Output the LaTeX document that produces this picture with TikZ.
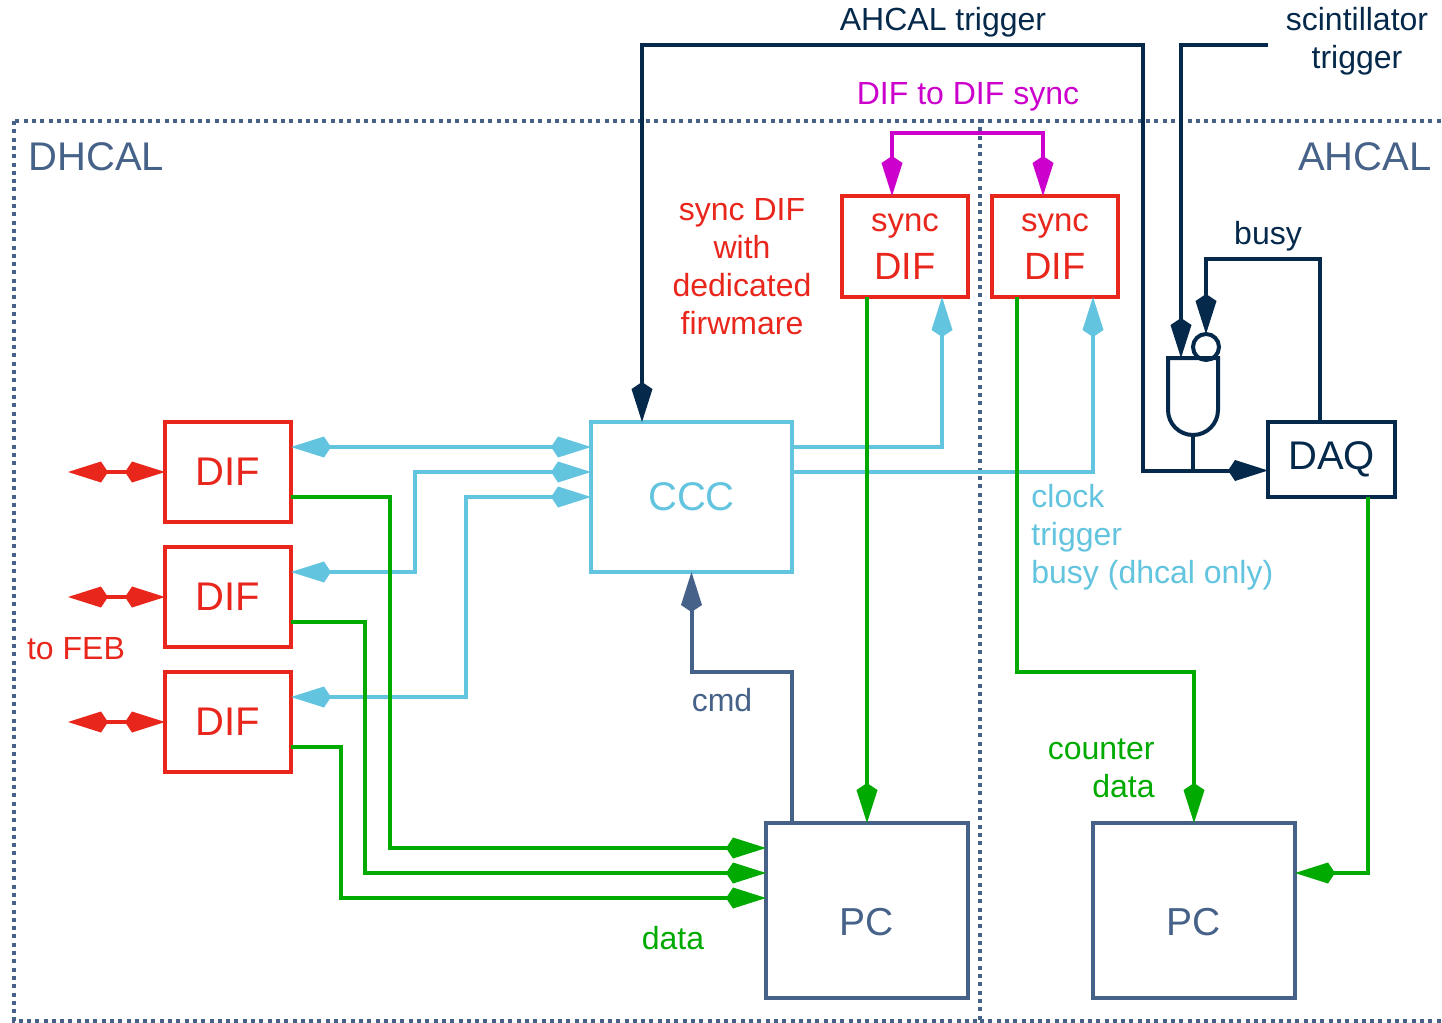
\documentclass[tikz,border=0pt]{standalone}
\usepackage{fontspec}
\setmainfont{Liberation Sans}
\usetikzlibrary{arrows.meta}

\definecolor{navy}{HTML}{05294B}
\definecolor{slate}{HTML}{466289}
\definecolor{difred}{HTML}{E8261C}
\definecolor{ccccyan}{HTML}{62C4DE}
\definecolor{datagreen}{HTML}{00AA00}
\definecolor{syncmag}{HTML}{CC00CC}

\tikzset{
  box/.style={draw, line width=2pt, inner sep=0pt, outer sep=0pt, align=center},
  difbox/.style={box, draw=difred, text=difred, minimum width=63pt, minimum height=50pt,
    font=\fontsize{20pt}{24pt}\selectfont},
  syncbox/.style={box, draw=difred, text=difred, minimum width=63pt, minimum height=50.5pt,
    font=\fontsize{19pt}{24pt}\selectfont},
  cccbox/.style={box, draw=ccccyan, text=ccccyan, minimum width=100.5pt, minimum height=75pt,
    font=\fontsize{20pt}{24pt}\selectfont},
  pcbox/.style={box, draw=slate, text=slate, minimum width=101pt, minimum height=87.5pt,
    text height=25pt, font=\fontsize{19.5pt}{24pt}\selectfont},
  daqbox/.style={box, draw=navy, text=navy, minimum width=63.5pt, minimum height=37.5pt,
    font=\fontsize{20pt}{24pt}\selectfont},
  region/.style={text=slate, inner sep=0pt, font=\fontsize{20pt}{24pt}\selectfont},
  lbl/.style={inner sep=0pt, font=\fontsize{16pt}{19pt}\selectfont},
  frame/.style={draw=slate, line width=1.8pt, dash pattern=on 2pt off 2.15pt},
  link/.style={line width=2pt},
  feblink/.style={link, difred},
  cyanlink/.style={link, ccccyan},
  datalink/.style={link, datagreen},
  navylink/.style={link, navy},
  cmdlink/.style={link, slate},
  synclink/.style={link, syncmag}
}

\begin{document}
\begin{tikzpicture}[x=0.5pt, y=-0.5pt, >={Kite[length=20pt,width=10.5pt,inset=3.5pt]}]
  \useasboundingbox (0,0) rectangle (1442,1023);

  % Dotted frames: DHCAL on the left, AHCAL on the right
  \draw[frame] (14,121) rectangle (980,1021);
  \draw[frame] (980,121) -- (1442,121);
  \draw[frame] (980,1021) -- (1442,1021);
  \node[region, anchor=west] (dhcal) at (28,157) {DHCAL};
  \node[region, anchor=east] (ahcal) at (1432,157) {AHCAL};

  % Boxes
  \node[difbox] (dif1) at (228,472) {DIF};
  \node[difbox] (dif2) at (228,597) {DIF};
  \node[difbox] (dif3) at (228,722) {DIF};
  \node[cccbox] (ccc) at (691.5,497) {CCC};
  \node[syncbox] (sdif1) at (905,246.5) {{\fontsize{16.5pt}{24pt}\selectfont sync}\\DIF};
  \node[syncbox] (sdif2) at (1055,246.5) {{\fontsize{16.5pt}{24pt}\selectfont sync}\\DIF};
  \node[pcbox] (pc1) at (867,910.5) {PC};
  \node[pcbox] (pc2) at (1194,910.5) {PC};
  \node[daqbox] (daq) at (1331.5,459.5) {DAQ};

  % Links to the front-end boards
  \foreach \i in {1,2,3} {
    \coordinate (feb\i) at ([xshift=-48.5pt]dif\i.west);
    \draw[feblink, <->] (feb\i) -- (dif\i.west);
  }
  \node[lbl, text=difred] (feb) at (76,649) {to FEB};

  % Clock, trigger and busy from the CCC
  \draw[cyanlink, <->] ([yshift=-12.5pt]dif1.north east) -- ([yshift=-12.5pt]ccc.north west);
  \draw[cyanlink, <->] ([yshift=-12.5pt]dif2.north east) -| (415,472) -- ([yshift=-25pt]ccc.north west);
  \draw[cyanlink, <->] ([yshift=-12.5pt]dif3.north east) -| (466,497) -- ([yshift=-37.5pt]ccc.north west);
  \draw[cyanlink, ->] ([yshift=-12.5pt]ccc.north east) -| ([xshift=-13pt]sdif1.south east);
  \draw[cyanlink, ->] ([yshift=-25pt]ccc.north east) -| ([xshift=-12.5pt]sdif2.south east);
  \node[lbl, text=ccccyan, align=left, anchor=west] (clk) at (1031,537) {clock\\trigger\\busy (dhcal only)};

  % Data to the PCs
  \draw[datalink, ->] ([yshift=-12.5pt]dif1.east) -| (390,848) -- ([yshift=-12.5pt]pc1.north west);
  \draw[datalink, ->] ([yshift=-12.5pt]dif2.east) -| (365,873) -- ([yshift=-25pt]pc1.north west);
  \draw[datalink, ->] ([yshift=-12.5pt]dif3.east) -| (341,898) -- ([yshift=-37.5pt]pc1.north west);
  \draw[datalink, ->] ([xshift=12.5pt]sdif1.south west) -- (pc1.north);
  \draw[datalink, ->] ([xshift=12.5pt]sdif2.south west) |- (1194,672) -- (pc2.north);
  \draw[datalink, ->] ([xshift=-13.5pt]daq.south east) |- ([yshift=-25pt]pc2.north east);
  \node[lbl, text=datagreen] (data) at (673,938) {data};
  \node[lbl, text=datagreen, align=right, anchor=east] (cnt) at (1155,768) {counter\\data};

  % Commands from the PC
  \draw[cmdlink, ->] ([xshift=13pt]pc1.north west) |- (691.5,672) -- (ccc.south);
  \node[lbl, text=slate] (cmd) at (722,700) {cmd};

  % DIF to DIF synchronisation
  \draw[synclink, <->] ([xshift=25pt]sdif1.north west) -- ++(0,-63) -| ([xshift=25.5pt]sdif2.north west);
  \node[lbl, text=syncmag] (dsync) at (968,97) {DIF to DIF sync};
  \node[lbl, text=difred, align=center] (fw) at (742,267) {sync DIF\\with\\dedicated\\firwmare};

  % Trigger logic: gate with inverted busy input
  \draw[navylink] (1168,358) -- (1168,410) arc[start angle=180, end angle=360, radius=12.5pt]
    -- (1218,358) -- cycle;
  \draw[navylink] (1206,347) circle[radius=6.5pt];
  \coordinate (andin) at (1181,358);
  \coordinate (andbub) at (1206,334);
  \coordinate (andout) at (1193,435);
  \coordinate (scint) at (1268,45);
  \draw[navylink] (andout) -- (1193,471);
  \draw[navylink, <->] ([xshift=25.5pt]ccc.north west) |- (1143,45) |- ([yshift=-5.5pt]daq.west);
  \draw[navylink, ->] (scint) -| (andin);
  \draw[navylink, ->] ([xshift=-6pt]daq.north) |- (1206,259) -- (andbub);
  \node[lbl, text=navy] (ahtrig) at (943,22) {AHCAL trigger};
  \node[lbl, text=navy, align=center] (sctrig) at (1357,41) {scintillator\\trigger};
  \node[lbl, text=navy] (busy) at (1268,236) {busy};
\end{tikzpicture}
\end{document}
